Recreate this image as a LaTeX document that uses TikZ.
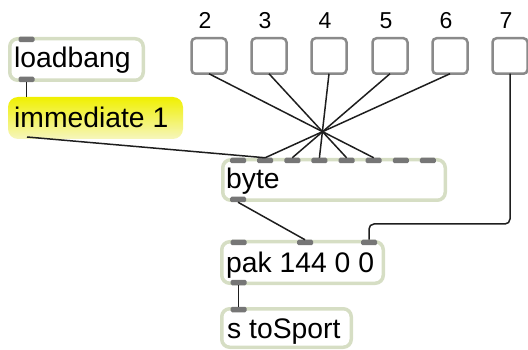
\documentclass[tikz,border=0pt]{standalone}
\usepackage{fontspec}
\setmainfont{Liberation Sans}
\begin{document}
\begin{tikzpicture}[x=1pt,y=-1pt]
\definecolor{objborder}{RGB}{214,222,196}
\definecolor{portgrey}{RGB}{118,118,118}
\definecolor{numborder}{RGB}{138,138,138}
\definecolor{wirecol}{RGB}{30,30,30}
\definecolor{yeltop}{RGB}{240,240,0}
\definecolor{yelbot}{RGB}{246,246,190}
\tikzset{
  obj/.style={draw=objborder, line width=3.5pt, fill=white, rounded corners=8pt, rectangle, inner sep=0pt, outer sep=0pt},
  yel/.style={rectangle, rounded corners=10pt, top color=yeltop, bottom color=yelbot, inner sep=0pt, outer sep=0pt},
  numbox/.style={draw=numborder, line width=2.5pt, fill=white, rounded corners=4pt, rectangle, inner sep=0pt, outer sep=0pt, minimum width=35pt, minimum height=35.5pt},
  port/.style={fill=portgrey, rectangle, rounded corners=1.5pt, minimum width=16pt, minimum height=5.5pt, inner sep=0pt, outer sep=0pt},
  txt/.style={anchor=base west, inner sep=0pt, font=\fontsize{28.3}{30}\selectfont},
  lbl/.style={anchor=base, inner sep=0pt, font=\fontsize{23}{25}\selectfont},
  wire/.style={draw=wirecol, line width=1.5pt}
}
\useasboundingbox (0,0) rectangle (528,350);
% objects
\node[obj, minimum width=133.5pt, minimum height=41.5pt] (loadbang) at (76.5,59.5) {};
\node[txt] (tloadbang) at (14,67.5) {loadbang};
\node[port] (lbin) at (26.5,39.5) {};
\node[port] (lbout) at (26.5,79.5) {};

\node[yel, minimum width=175pt, minimum height=42pt] (imm) at (95.5,118) {};
\node[txt] (timm) at (14,127.5) {immediate 1};
\coordinate (immin) at (26.5,97);
\coordinate (immout) at (27,137);

\node[obj, minimum width=222.5pt, minimum height=40.5pt] (byte) at (334,180) {};
\node[txt] (tbyte) at (226,188.5) {byte};
\foreach \i in {0,...,7} {\node[port] (bi\i) at ({238+27.14*\i},160.5) {};}
\node[port] (bout) at (238,199.5) {};

\node[obj, minimum width=161.5pt, minimum height=41.5pt] (pak) at (302.5,262.5) {};
\node[txt] (tpak) at (226,272.5) {pak 144 0 0};
\node[port] (pin1) at (238.5,242.5) {};
\node[port] (pin2) at (305,242.5) {};
\node[port] (pin3) at (369,242.5) {};
\node[port] (pout) at (238.5,282.5) {};

\node[obj, minimum width=129.5pt, minimum height=38.5pt] (send) at (286.5,328) {};
\node[txt] (tsend) at (227,338.5) {s toSport};
\node[port] (sin) at (238.5,309.5) {};

% number boxes and labels
\foreach \n/\cx/\lx in {2/209/205, 3/269/265, 4/329/325, 5/390/386, 6/450/446, 7/510/506} {
  \node[numbox] (n\n) at (\cx,56) {};
  \node[lbl] (l\n) at (\lx,29) {\n};
}

% wires
\draw[wire] (lbout.south) -- (immin);
\draw[wire] (immout) -- (bi1.north);
\draw[wire] (n2.south) -- (bi5.north);
\draw[wire] (n3.south) -- (bi4.north);
\draw[wire] (n4.south) -- (bi3.north);
\draw[wire] (n5.south) -- (bi2.north);
\draw[wire] (n6.south) -- (bi1.north);
\draw[wire] (bout.south) -- (pin2.north);
\draw[wire, rounded corners=5pt] (n7.south) -- (510,224) -- (369,224) -- (pin3.north);
\draw[wire] (pout.south) -- (sin.north);
\end{tikzpicture}
\end{document}
